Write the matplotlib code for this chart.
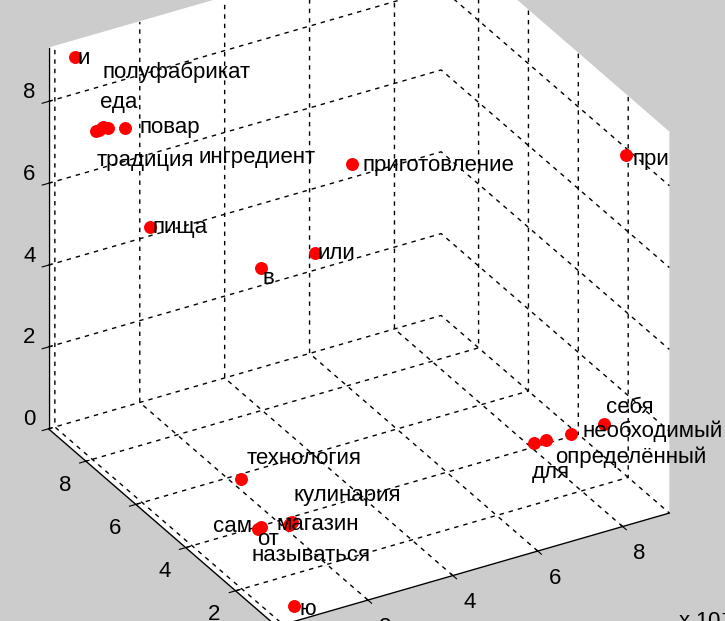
import numpy as np
import matplotlib
matplotlib.use('Agg')
import matplotlib.pyplot as plt
from matplotlib import transforms as mtransforms
from mpl_toolkits.mplot3d import proj3d

plt.rcParams['font.family'] = ['Liberation Sans', 'DejaVu Sans']
plt.rcParams['font.size'] = 16

# word coordinates in the 3-D semantic space
words = ['и', 'полуфабрикат', 'еда', 'традиция', 'ингредиент', 'повар', 'пища', 'в',
         'или', 'приготовление', 'при', 'технология', 'сам', 'от', 'магазин',
         'кулинария', 'называться', 'ю', 'для', 'определённый', 'необходимый', 'себя']
xs = [0.18, 0.44, 0.48, 0.63, 0.48, 0.77, 1.06, 2.81, 4.36, 5.52, 8.76, 1.82, 1.25,
      1.10, 1.92, 1.52, 1.32, 0.50, 7.90, 8.00, 8.57, 8.77]
ys = [9.00, 8.60, 8.40, 8.80, 8.20, 8.00, 7.50, 6.00, 6.50, 7.00, 1.50, 5.12, 3.50,
      3.12, 3.25, 2.64, 2.34, 0.75, 3.72, 3.42, 3.38, 2.41]
zs = [9.24, 7.57, 7.76, 7.45, 7.84, 7.86, 5.62, 4.90, 4.52, 6.10, 8.25, 0.50, 0.30,
      0.60, 0.40, 0.80, 1.00, 0.10, 0.30, 0.50, 0.50, 1.20]

# where each word is written relative to its dot (pixels, right / down)
label_dx = [3, 7, -3, -2, 91, 15, 3, 1, 3, 11, 6, 5, -45, -4, -16, 3, -38, 5, -3, 9, 11, 2]
label_dy = [7, -53, -19, 36, 35, 5, 6, 16, 6, 7, 10, -15, 3, 18, 8, -23, 36, 9, 35, 23, 3, -11]

xticks = [0, 2, 4, 6, 8]
yticks = [2, 4, 6, 8]
zticks = [0, 2, 4, 6, 8]
xlim, ylim, zlim = (-0.15, 9.1), (0.35, 9.5), (0, 9.3)

fig = plt.figure(figsize=(7.25, 6.21), dpi=100, facecolor='#cccccc')
ax = fig.add_axes([0, 0, 1, 1], projection='3d', proj_type='ortho')
ax.patch.set_visible(False)
ax.view_init(elev=30, azim=-120)
ax.set_xlim(*xlim)
ax.set_ylim(*ylim)
ax.set_zlim(*zlim)
ax.set_box_aspect((454, 457, 440))
ax.set_xticks(xticks)
ax.set_yticks(yticks)
ax.set_zticks(zticks)
ax.xaxis.set_ticklabels([])
ax.yaxis.set_ticklabels([])
ax.zaxis.set_ticklabels([])

for axis in (ax.xaxis, ax.yaxis, ax.zaxis):
    axis.set_pane_color((1, 1, 1, 1))
    axis.pane.set_edgecolor('white')
    axis._axinfo['grid'].update(color='black', linewidth=1.0, linestyle=(0, (3.2, 3.6)))
    axis._axinfo['axisline'].update(color='black', linewidth=1.0)
    axis.line.set_color('black')
    axis.line.set_linewidth(1.0)


def label_at(x, y, z, s, dx, dy, **kw):
    tr = mtransforms.offset_copy(ax.transData, fig=fig, x=dx, y=-dy, units='dots')
    return ax.text(x, y, z, s, transform=tr, color='black', **kw)


ax.plot(xs, ys, zs, linestyle='none', marker='o', ms=8.3, color='red', mec='red')
for w, x, y, z, dx, dy in zip(words, xs, ys, zs, label_dx, label_dy):
    label_at(x, y, z, w, dx, dy, ha='left', va='baseline')

# tick numbers placed beside the box edges that carry each axis
for t in xticks[1:]:
    label_at(t, ylim[0], zlim[0], f'{t}', 17, 27, ha='center', va='center')
for t in yticks:
    label_at(xlim[0], t, zlim[0], f'{t}', -21, 24, ha='center', va='center')
for t in zticks:
    label_at(xlim[0], ylim[1], t, f'{t}', -19, -9, ha='center', va='center')

# scale and shift the cube so its floor corners sit at the intended pixels
W, H = fig.bbox.width, fig.bbox.height
fig.canvas.draw()


def to_px(x, y, z):
    px, py, _ = proj3d.proj_transform(x, y, z, ax.get_proj())
    return np.array(ax.transData.transform((px, py)))


p_left = to_px(xlim[0], ylim[1], zlim[0])
p_right = to_px(xlim[1], ylim[0], zlim[0])
t_left = np.array([48.5, H - 428.8])
t_right = np.array([669.5, H - 512.0])
k = np.linalg.norm(t_right - t_left) / np.linalg.norm(p_right - p_left)
bb = ax.bbox
c0 = np.array([(bb.x0 + bb.x1) / 2, (bb.y0 + bb.y1) / 2])
side = bb.width * k
c1 = t_left - k * (p_left - c0)
ax.set_position([(c1[0] - side / 2) / W, (c1[1] - side / 2) / H, side / W, side / H])

fig.text(678 / W, -7 / H, 'x 10$^{-3}$', ha='left', va='baseline', color='black')

fig.savefig('out.png', dpi=100, facecolor=fig.get_facecolor())
